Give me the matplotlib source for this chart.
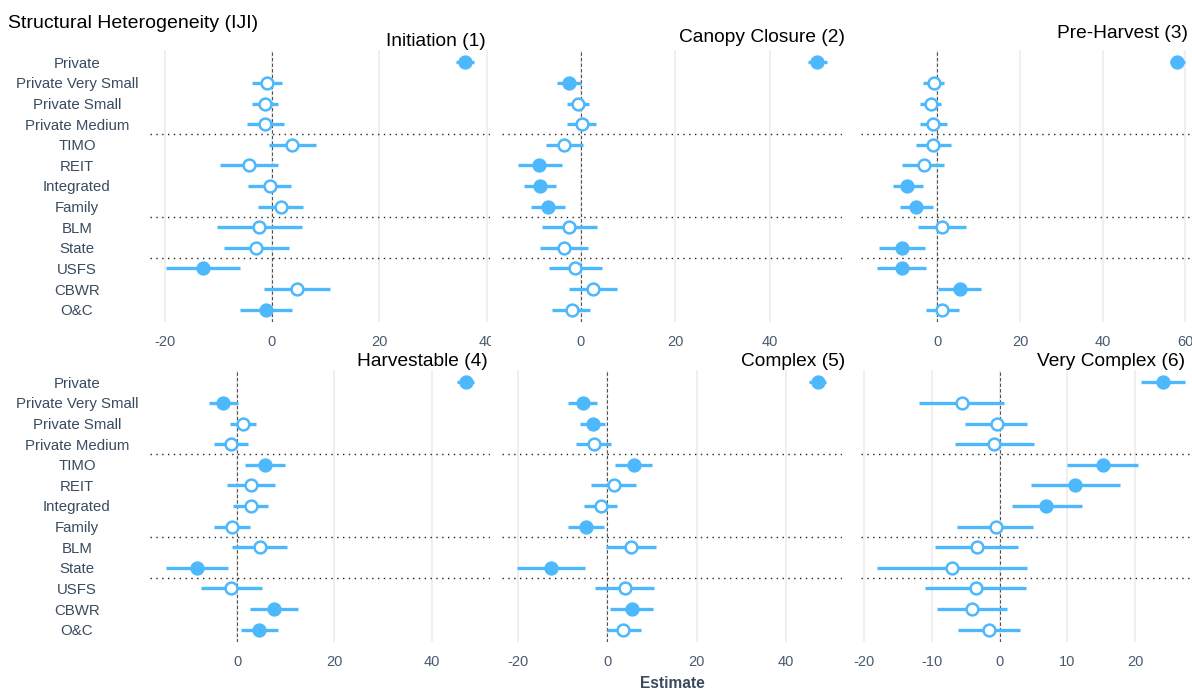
import matplotlib
matplotlib.use("Agg")
import matplotlib.pyplot as plt
from matplotlib.patches import Rectangle
import numpy as np

plt.rcParams['font.family'] = ['Liberation Sans', 'DejaVu Sans']

# ---------------- data ----------------
categories = ["Private", "Private Very Small", "Private Small", "Private Medium",
              "TIMO", "REIT", "Integrated", "Family",
              "BLM", "State",
              "USFS", "CBWR", "O&C"]
# owner groups (separated by dotted lines)
group_sizes = [4, 4, 2, 3]

main_title = "Structural Heterogeneity (IJI)"
panel_titles = ["Initiation (1)", "Canopy Closure (2)", "Pre-Harvest (3)",
                "Harvestable (4)", "Complex (5)", "Very Complex (6)"]
x_label = "Estimate"

initiation_est = [35.9, -1.0, -1.2, -1.2, 3.8, -4.3, -0.4, 1.7, -2.4, -2.9, -12.9, 4.6, -1.1]
initiation_lo = [34.2, -3.7, -3.8, -4.7, -0.5, -9.7, -4.4, -2.5, -10.2, -8.9, -19.8, -1.5, -5.9]
initiation_hi = [37.6, 1.9, 1.2, 2.2, 8.2, 1.1, 3.5, 5.7, 5.6, 3.2, -6.0, 10.9, 3.8]
initiation_sig = [1, 0, 0, 0, 0, 0, 0, 0, 0, 0, 1, 0, 1]

canopy_est = [50.0, -2.5, -0.5, 0.2, -3.5, -8.7, -8.6, -6.8, -2.4, -3.5, -1.1, 2.7, -1.9]
canopy_lo = [48.1, -4.9, -2.8, -2.8, -7.4, -13.3, -11.9, -10.5, -8.1, -8.6, -6.7, -2.4, -6.0]
canopy_hi = [52.0, 0.0, 1.8, 3.2, 0.4, -4.0, -5.2, -3.2, 3.4, 1.6, 4.6, 7.6, 2.0]
canopy_sig = [1, 1, 0, 0, 0, 1, 1, 1, 0, 0, 0, 0, 0]

preharvest_est = [58.0, -0.8, -1.6, -0.9, -1.0, -3.2, -7.2, -5.1, 1.2, -8.5, -8.6, 5.4, 1.2]
preharvest_lo = [56.4, -3.5, -4.2, -4.2, -5.2, -8.4, -10.8, -9.0, -4.7, -14.1, -14.5, 0.1, -2.8]
preharvest_hi = [59.8, 1.7, 0.8, 2.4, 3.3, 1.6, -3.4, -1.1, 6.9, -3.0, -2.7, 10.5, 5.2]
preharvest_sig = [1, 0, 0, 0, 0, 0, 1, 1, 0, 1, 1, 1, 0]

harvestable_est = [47.0, -2.9, 1.2, -1.2, 5.8, 2.9, 2.8, -1.1, 4.7, -8.2, -1.2, 7.6, 4.6]
harvestable_lo = [45.2, -5.8, -1.4, -4.7, 1.6, -2.0, -0.8, -4.8, -1.0, -14.7, -7.4, 2.7, 0.8]
harvestable_hi = [48.7, 0.1, 3.8, 2.3, 9.9, 7.8, 6.4, 2.6, 10.3, -1.8, 5.1, 12.5, 8.4]
harvestable_sig = [1, 1, 0, 0, 1, 0, 0, 0, 0, 1, 0, 1, 1]

complex_est = [47.2, -5.5, -3.2, -2.9, 5.9, 1.6, -1.5, -4.7, 5.3, -12.6, 3.9, 5.5, 3.5]
complex_lo = [45.3, -8.8, -6.2, -7.0, 1.7, -3.6, -5.3, -8.7, -0.4, -20.3, -2.7, 0.6, -0.1]
complex_hi = [49.0, -2.2, -0.6, 0.9, 10.1, 6.5, 2.1, -0.8, 10.9, -4.9, 10.4, 10.2, 7.5]
complex_sig = [1, 1, 1, 0, 1, 0, 0, 1, 0, 1, 0, 1, 0]

verycomplex_est = [24.1, -5.6, -0.4, -0.8, 15.3, 11.2, 6.9, -0.6, -3.4, -7.0, -3.5, -4.1, -1.5]
verycomplex_lo = [20.9, -11.9, -5.1, -6.6, 10.0, 4.7, 1.8, -6.3, -9.5, -18.1, -11.0, -9.3, -6.1]
verycomplex_hi = [27.4, 0.7, 4.1, 5.1, 20.4, 17.7, 12.1, 4.9, 2.7, 4.0, 3.9, 1.1, 3.0]
verycomplex_sig = [1, 0, 0, 0, 1, 1, 1, 0, 0, 0, 0, 0, 0]

panels = [
    (initiation_est, initiation_lo, initiation_hi, initiation_sig),
    (canopy_est, canopy_lo, canopy_hi, canopy_sig),
    (preharvest_est, preharvest_lo, preharvest_hi, preharvest_sig),
    (harvestable_est, harvestable_lo, harvestable_hi, harvestable_sig),
    (complex_est, complex_lo, complex_hi, complex_sig),
    (verycomplex_est, verycomplex_lo, verycomplex_hi, verycomplex_sig),
]

# ---------------- layout ----------------
W, H = 1192, 692
fig = plt.figure(figsize=(W / 100, H / 100), dpi=100)
fig.patch.set_facecolor("white")


def rect(x0, x1, y0, y1):
    return [x0 / W, 1 - y1 / H, (x1 - x0) / W, (y1 - y0) / H]


boxes = [(150, 490, 50, 322), (502, 842, 50, 322), (860.7, 1192, 50, 322),
         (150, 490, 370, 642), (502, 842, 370, 642), (860.7, 1192, 370, 642)]
xlims = [(-22.7, 40.6), (-16.6, 55.2), (-18.5, 61.6),
         (-17.9, 52.0), (-23.6, 52.6), (-20.5, 28.4)]
tick_step = [20, 20, 20, 20, 20, 10]
title_pos = [(486, 41), (845, 38), (1188, 33), (488, 362), (845, 362), (1185, 361)]

col = "#4DB8FC"
tick_col = "#4A5A6E"
lab_col = "#3A4B60"

breaks = []
acc = 0
for g in group_sizes[:-1]:
    acc += g
    breaks.append(acc - 0.5)

for i, (est, lo, hi, sig) in enumerate(panels):
    ax = fig.add_axes(rect(*boxes[i]))
    ax.set_facecolor("none")
    for s in ax.spines.values():
        s.set_visible(False)
    x0, x1 = xlims[i]
    step = tick_step[i]
    ticks = np.arange(np.ceil(x0 / step) * step, x1 + 1e-9, step)
    ax.set_xticks(ticks)
    ax.set_xticklabels([f"{int(t)}" for t in ticks])
    ax.grid(axis="x", color="#EBEBEB", lw=1.1, zorder=0)
    ax.set_axisbelow(True)

    for k, cat in enumerate(categories):
        ax.plot([lo[k], hi[k]], [cat, cat], color=col, lw=2.4,
                solid_capstyle="butt", zorder=3)
    for k, cat in enumerate(categories):
        ax.plot([est[k]], [cat], marker="o", ms=8.5, ls="none",
                mfc=col if sig[k] else "white", mec=col, mew=1.8, zorder=4)

    ax.axvline(0, color="#505050", lw=0.8, ls=(0, (3, 2)), zorder=2)
    for b in breaks:
        ax.axhline(b, color="#222222", lw=1.0, ls=(0, (1, 3.2)), zorder=2)

    ax.set_xlim(x0, x1)
    ax.set_ylim(len(categories) - 0.4, -0.6)
    ax.tick_params(axis="x", length=0, pad=9, labelsize=10.5, labelcolor=tick_col)
    if i % 3 == 0:
        ax.tick_params(axis="y", length=0, pad=52.6, labelsize=10.8, labelcolor=lab_col)
        for lab in ax.get_yticklabels():
            lab.set_horizontalalignment("center")
    else:
        ax.tick_params(axis="y", length=0, labelleft=False)

    tx, ty = title_pos[i]
    fig.text(tx / W, 1 - ty / H, panel_titles[i], ha="right", va="center",
             fontsize=13.8, color="black")

# white cover to mimic overlapping panel clipping the "40" label
fig.patches.append(Rectangle((491 / W, 1 - 350 / H), 11 / W, 22 / H,
                             transform=fig.transFigure, facecolor="white",
                             edgecolor="none", zorder=10))

fig.text(8 / W, 1 - 24 / H, main_title, ha="left", va="center",
         fontsize=14, color="black")
fig.text(672 / W, 1 - 684 / H, x_label, ha="center", va="center",
         fontsize=11.2, fontweight="bold", color=lab_col)

fig.savefig("out.png", dpi=100, facecolor="white")
